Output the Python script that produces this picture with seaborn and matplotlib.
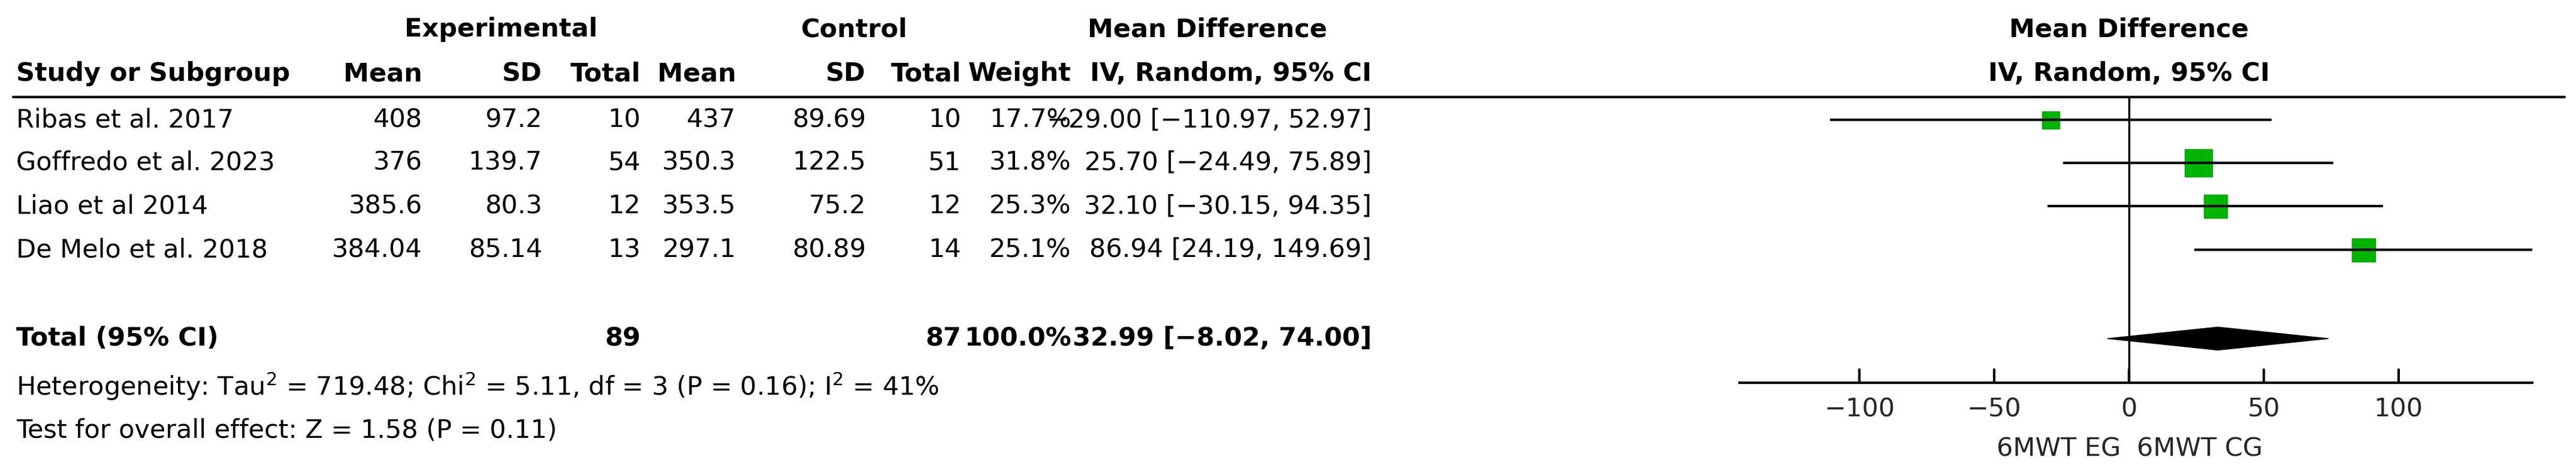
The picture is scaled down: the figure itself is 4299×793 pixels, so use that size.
import numpy as np
import pandas as pd
import seaborn as sns
import matplotlib.pyplot as plt
from matplotlib import font_manager

# study data
studies = ["Ribas et al. 2017", "Goffredo et al. 2023", "Liao et al 2014", "De Melo et al. 2018"]
exp_mean = ["408", "376", "385.6", "384.04"]
exp_sd = ["97.2", "139.7", "80.3", "85.14"]
exp_n = ["10", "54", "12", "13"]
ctl_mean = ["437", "350.3", "353.5", "297.1"]
ctl_sd = ["89.69", "122.5", "75.2", "80.89"]
ctl_n = ["10", "51", "12", "14"]
weight = [17.7, 31.8, 25.3, 25.1]
md = [-29.00, 25.70, 32.10, 86.94]
lo = [-110.97, -24.49, -30.15, 24.19]
hi = [52.97, 75.89, 94.35, 149.69]
total_md, total_lo, total_hi = 32.99, -8.02, 74.00
total_exp, total_ctl = "89", "87"
xticks = [-100, -50, 0, 50, 100]

sns.set_theme(style="white")
names = {f.name for f in font_manager.fontManager.ttflist}
if "Liberation Sans Narrow" in names:
    plt.rcParams['font.family'] = ['Liberation Sans Narrow', 'DejaVu Sans']
    fs = 41
else:
    plt.rcParams['font.family'] = ['DejaVu Sans']
    fs = 31

W, H = 1568, 289  # layout units
fig = plt.figure(figsize=(42.99, 7.93), dpi=100)
tab = fig.add_axes([0, 0, 1, 1])
tab.set_xlim(0, W)
tab.set_ylim(H, 0)
tab.axis("off")

row_y = [73, 99, 125.5, 152]

def t(x, y, s, ha="right", bold=False):
    tab.text(x, y, s, ha=ha, va="center", fontsize=fs, color="black",
             fontweight="bold" if bold else "normal")

# headers
t(305, 18, "Experimental", "center", True)
t(520, 18, "Control", "center", True)
t(735, 18, "Mean Difference", "center", True)
t(1296, 18, "Mean Difference", "center", True)
t(10, 45, "Study or Subgroup", "left", True)
for x, s in [(257, "Mean"), (330, "SD"), (390, "Total"), (448, "Mean"), (527, "SD"),
             (585, "Total"), (652, "Weight"), (835, "IV, Random, 95% CI")]:
    t(x, 45, s, bold=True)
t(1296, 45, "IV, Random, 95% CI", "center", True)
tab.plot([8, 1561], [59, 59], color="black", lw=3)

for i, y in enumerate(row_y):
    t(10, y, studies[i], "left")
    t(257, y, exp_mean[i]); t(330, y, exp_sd[i]); t(390, y, exp_n[i])
    t(448, y, ctl_mean[i]); t(527, y, ctl_sd[i]); t(585, y, ctl_n[i])
    t(652, y, f"{weight[i]:.1f}%")
    t(835, y, f"{md[i]:.2f} [{lo[i]:.2f}, {hi[i]:.2f}]".replace("-", "\u2212"))

t(10, 206, "Total (95% CI)", "left", True)
t(390, 206, total_exp, bold=True)
t(585, 206, total_ctl, bold=True)
t(652, 206, "100.0%", bold=True)
t(835, 206, f"{total_md:.2f} [{total_lo:.2f}, {total_hi:.2f}]".replace("-", "\u2212"), bold=True)
t(10, 235, "Heterogeneity: Tau$^2$ = 719.48; Chi$^2$ = 5.11, df = 3 (P = 0.16); I$^2$ = 41%", "left")
t(10, 262, "Test for overall effect: Z = 1.58 (P = 0.11)", "left")

# forest axes
x0, x1 = 1058, 1542
ax = fig.add_axes([x0 / W, 0, (x1 - x0) / W, 1])
ax.set_xlim(-145, 150)
ax.set_ylim(H, 0)
ax.axis("off")
ax.patch.set_alpha(0)

df = pd.DataFrame({"md": md, "lo": lo, "hi": hi, "w": weight, "y": row_y})
ax.hlines(df["y"], df["lo"], df["hi"], color="black", lw=3)
sns.scatterplot(data=df, x="md", y="y", size="w", sizes=(450, 1100), marker="s",
                color="#00b400", edgecolor="#00a000", linewidth=1, legend=False, ax=ax)
ax.fill([total_lo, total_md, total_hi, total_md], [206, 199, 206, 213], color="black")
ax.plot([0, 0], [59, 233], color="black", lw=2.5)
ax.plot([-145, 150], [233, 233], color="black", lw=3)
for v in xticks:
    ax.plot([v, v], [225, 233], color="black", lw=3)
    ax.text(v, 249, str(v).replace("-", "\u2212"), ha="center", va="center", fontsize=fs)
ax.text(-3, 273, "6MWT EG", ha="right", va="center", fontsize=fs)
ax.text(3, 273, "6MWT CG", ha="left", va="center", fontsize=fs)

fig.savefig("out.png", dpi=100, facecolor="white")
